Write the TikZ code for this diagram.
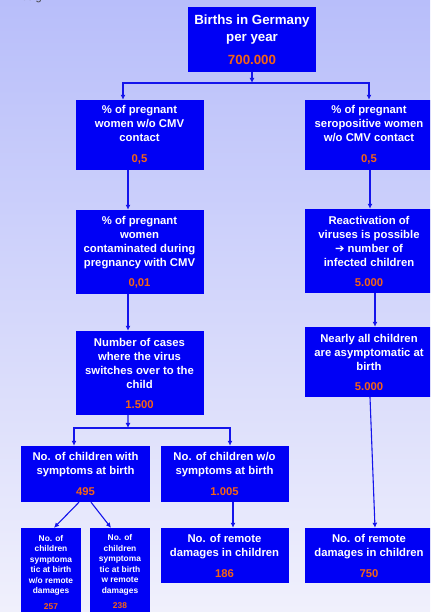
\documentclass[tikz,border=0pt]{standalone}
\usepackage{fontspec}
\setmainfont{Liberation Sans}
\newfontfamily\arrowfont{DejaVu Sans}
\usepackage{tikz}
\usetikzlibrary{arrows.meta}
\definecolor{boxblue}{RGB}{0,0,245}
\definecolor{lineblue}{RGB}{20,20,235}
\definecolor{numorange}{RGB}{245,100,20}
\definecolor{bgtop}{RGB}{184,190,250}
\definecolor{bgbottom}{RGB}{240,240,252}
\newcommand{\amount}[1]{\textcolor{numorange}{#1}}
\tikzstyle{box}=[rectangle,
fill=boxblue,
text=white,
align=center,
inner sep=0pt,
minimum width=128bp,
font=\bfseries\fontsize{11.3bp}{14bp}\selectfont]
\tikzstyle{bigbox}=[box,
font=\bfseries\fontsize{13.3bp}{17bp}\selectfont]
\tikzstyle{smallbox}=[box,
minimum width=60bp,
font=\bfseries\fontsize{8.4bp}{10.5bp}\selectfont]
\tikzstyle{link}=[->,
line width=1.1bp,
lineblue]

\begin{document}
\begin{tikzpicture}[>={Latex[length=5bp,width=5bp]},x=1bp,y=1bp]
		% The picture is cut to the slide: background first.
		\clip (0,0) rectangle (430,612);
		\fill[top color=bgtop,bottom color=bgbottom] (0,0) rectangle (430,612);
		\node (design) [anchor=base west,text=black!75,font=\fontsize{11bp}{13bp}\selectfont] at (10,611) {Design};
		
		% First row: all births
		\node (births) [bigbox,minimum height=65bp] at (252,572.5)
		{Births in Germany\\per year\\[6bp]\amount{700.000}};
		
		% Left column: women without CMV contact
		\node (pct_neg) [box,minimum height=70bp] at (139.5,477)
		{\% of pregnant\\women w/o CMV\\contact\\[7bp]\amount{0,5}};
		\node (pct_inf) [box,minimum height=84bp] at (139.5,360)
		{\% of pregnant\\women\\contaminated during\\pregnancy with CMV\\[6bp]\amount{0,01}};
		\node (cases) [box,minimum height=84bp] at (139.5,239)
		{Number of cases\\where the virus\\switches over to the\\child\\[6bp]\amount{1.500}};
		\node (sympt) [box,minimum height=56bp] at (85.5,138)
		{No. of children with\\symptoms at birth\\[7bp]\amount{495}};
		\node (nosympt) [box,minimum height=56bp] at (224.5,138)
		{No. of children w/o\\symptoms at birth\\[7bp]\amount{1.005}};
		\node (sympt_nodmg) [smallbox,minimum height=88bp] at (51,40)
		{No. of\\children\\symptoma\\tic at birth\\w/o remote\\damages\\[5bp]\amount{257}};
		\node (sympt_dmg) [smallbox,minimum height=88bp] at (120,40)
		{No. of\\children\\symptoma\\tic at birth\\w remote\\damages\\[5bp]\amount{238}};
		\node (dmg_left) [box,minimum height=55bp] at (224.5,56.5)
		{No. of remote\\damages in children\\[7bp]\amount{186}};
		
		% Right column: seropositive women
		\node (pct_pos) [box,minimum height=70bp] at (369,477)
		{\% of pregnant\\seropositive women\\w/o CMV contact\\[7bp]\amount{0,5}};
		\node (react) [box,minimum height=84bp] at (369,361)
		{Reactivation of\\viruses is possible\\{\arrowfont ➔} number of\\infected children\\[6bp]\amount{5.000}};
		\node (asympt) [box,minimum height=70bp] at (369,250)
		{Nearly all children\\are asymptomatic at\\birth\\[6bp]\amount{5.000}};
		\node (dmg_right) [box,minimum height=55bp] at (369,56.5)
		{No. of remote\\damages in children\\[7bp]\amount{750}};
		
		% Branch points
		\coordinate (split_top) at (252,529);
		\coordinate (split_mid) at (128,184);
		
		% The diagram elements are now connected through arrows:
		\draw[link] (births.south) -- (split_top);
		\draw[link] (split_top) -| ([xshift=-16.5bp]pct_neg.north);
		\draw[link] (split_top) -| (pct_pos.north);
		\path[link]
		([xshift=-11.5bp]pct_neg.south) edge ([xshift=-11.5bp]pct_inf.north)
		([xshift=-11.5bp]pct_inf.south) edge ([xshift=-11.5bp]cases.north)
		([xshift=-11.5bp]cases.south) edge (split_mid)
		([xshift=-6.5bp]sympt.south) edge ([xshift=3bp]sympt_nodmg.north)
		([xshift=5.5bp]sympt.south) edge ([xshift=-9bp]sympt_dmg.north)
		([xshift=8.5bp]nosympt.south) edge ([xshift=8.5bp]dmg_left.north)
		([xshift=1bp]pct_pos.south) edge ([xshift=1bp]react.north)
		([xshift=6bp]react.south) edge ([xshift=6bp]asympt.north)
		([xshift=1bp]asympt.south) edge ([xshift=6bp]dmg_right.north)
		;
		\draw[link] (split_mid) -| ([xshift=-11.5bp]sympt.north);
		\draw[link] (split_mid) -| ([xshift=5.5bp]nosympt.north);
\end{tikzpicture}
\end{document}
